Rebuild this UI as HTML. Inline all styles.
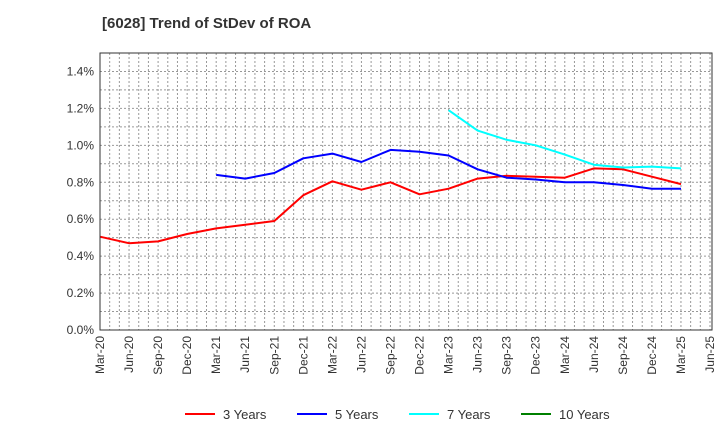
<!DOCTYPE html>
<html><head><meta charset="utf-8"><style>
body{margin:0;background:#fff;font-family:"Liberation Sans",sans-serif}
</style></head><body>
<svg id="c" width="720" height="440" xmlns="http://www.w3.org/2000/svg">
<text x="102" y="28" font-size="15" font-weight="bold" fill="#333">[6028]  Trend of StDev of ROA</text>
<g id="grid"></g><g id="series"></g><g id="axes"></g><g id="legend"></g>
</svg>
<script>
const xLabels=["Mar-20","Jun-20","Sep-20","Dec-20","Mar-21","Jun-21","Sep-21","Dec-21","Mar-22","Jun-22","Sep-22","Dec-22","Mar-23","Jun-23","Sep-23","Dec-23","Mar-24","Jun-24","Sep-24","Dec-24","Mar-25","Jun-25"];
const yTicks=[0,0.2,0.4,0.6,0.8,1.0,1.2,1.4];
const s3=[0.505,0.47,0.48,0.52,0.55,0.57,0.59,0.73,0.805,0.76,0.80,0.735,0.765,0.82,0.835,0.83,0.825,0.875,0.87,0.83,0.79];
const s5=[0.84,0.82,0.85,0.93,0.955,0.91,0.975,0.965,0.945,0.87,0.825,0.815,0.80,0.80,0.785,0.765,0.765];
const s5start=4;
const s7=[1.19,1.08,1.03,1.00,0.95,0.895,0.88,0.885,0.875];
const s7start=12;
const NS="http://www.w3.org/2000/svg";
const L=100,R=712,T=53,B=330;
const xs=i=>L+i*(710-L)/21;
const ys=v=>B-v/1.5*(B-T);
function mk(t,a,p){const e=document.createElementNS(NS,t);for(const k in a)e.setAttribute(k,a[k]);p.appendChild(e);return e;}
const g=document.getElementById('grid'),ax=document.getElementById('axes'),se=document.getElementById('series'),lg=document.getElementById('legend');
for(let i=0;i<=63;i++){const x=L+i*(710-L)/63;mk('line',{x1:x,x2:x,y1:T,y2:B,stroke:'#999','stroke-dasharray':'2,2','stroke-width':1},g);}
for(let v=0.1;v<1.5;v+=0.1){const y=ys(v);mk('line',{x1:L,x2:R,y1:y,y2:y,stroke:'#999','stroke-dasharray':'2,2','stroke-width':1},g);}
mk('rect',{x:L,y:T,width:R-L,height:B-T,fill:'none',stroke:'#333'},ax);
yTicks.forEach(v=>{const t=mk('text',{x:L-6,y:ys(v)+4,'text-anchor':'end','font-size':12,fill:'#333'},ax);t.textContent=v.toFixed(1)+'%';

});
xLabels.forEach((l,i)=>{const x=xs(i);const t=mk('text',{x:x+4,y:B+6,'text-anchor':'end','font-size':12,fill:'#333',transform:`rotate(-90 ${x+4} ${B+6})`},ax);t.textContent=l;

});
function line(arr,start,col,name){const p=arr.map((v,i)=>xs(start+i).toFixed(1)+','+ys(v).toFixed(1)).join(' ');
const e=mk('polyline',{points:p,fill:'none',stroke:col,'stroke-width':2,'stroke-linejoin':'round'},se);

}
line(s3,0,'#ff0000','series-3-years');line(s5,s5start,'#0000ff','series-5-years');line(s7,s7start,'#00ffff','series-7-years');
[["3 Years","#ff0000",185],["5 Years","#0000ff",297],["7 Years","#00ffff",409],["10 Years","#008000",521]].forEach(([n,c,x])=>{
const gg=mk('g',{},lg);


mk('line',{x1:x,x2:x+30,y1:414,y2:414,stroke:c,'stroke-width':2},gg);
const t=mk('text',{x:x+38,y:419,'font-size':13,fill:'#333'},gg);t.textContent=n;});
</script>
</body></html>
